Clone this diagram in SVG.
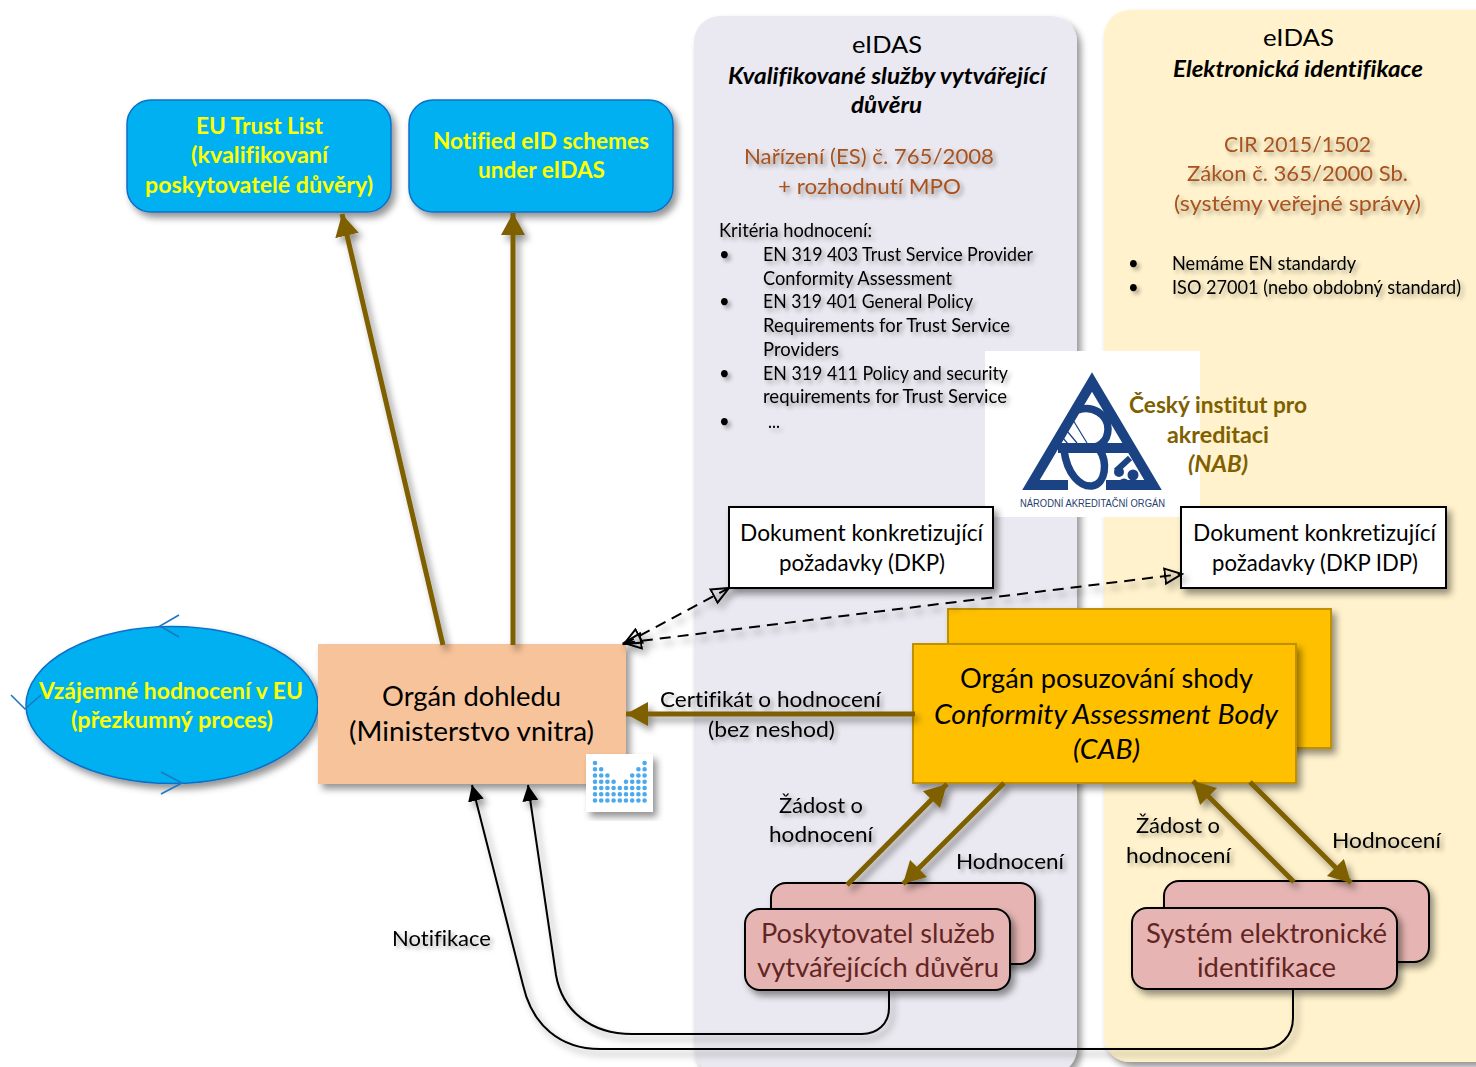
<svg xmlns="http://www.w3.org/2000/svg" width="1476" height="1067" viewBox="0 0 1476 1067">
<style>
text{font-family:Lato,"Liberation Sans",sans-serif;fill:#000;font-variant-ligatures:none}
.sh{filter:url(#ts)}
.bs{filter:url(#bs)}
.s18{font-size:18.5px}
.s21{font-size:22px}
.s24{font-size:24px}
.s26{font-size:27px}
.bi{font-weight:700;font-style:italic}
.it{font-style:italic}
.rust{fill:#A9521E}
.yel{fill:#FFFF00;font-weight:700;font-size:22px}
.ol{fill:#7F6000;font-weight:700;font-size:22px}
.pk{fill:#632523;font-size:27px}
.blue{fill:#00B0F0;stroke:#0F6FC6;stroke-width:1.5}
.pink{fill:#E6B5B3;stroke:#000;stroke-width:2}
.cab{fill:#FFC000;stroke:#BF9000;stroke-width:2}
.doc{fill:#fff;stroke:#000;stroke-width:2}
.br{stroke:#7F6000;stroke-width:5;fill:none}
.th{stroke:#000;stroke-width:2;fill:none}
.da{stroke:#000;stroke-width:2;fill:none;stroke-dasharray:11 7}
.tick{stroke:#1F77C4;stroke-width:1.6;fill:none}
.dots{stroke:#4BA9EE;stroke-width:4.6;stroke-linecap:round;stroke-dasharray:0 6.25;fill:none}
.nab{fill:none;stroke:#1B4283}
</style>
<defs>
<filter id="ts" x="-5%" y="-30%" width="110%" height="170%"><feDropShadow dx="3" dy="3" stdDeviation="2.2" flood-color="#000" flood-opacity=".33"/></filter>
<filter id="bs" x="-10%" y="-10%" width="125%" height="125%"><feDropShadow dx="4" dy="5" stdDeviation="3.5" flood-color="#000" flood-opacity=".42"/></filter>
<marker id="brh" markerUnits="userSpaceOnUse" markerWidth="24" markerHeight="26" refX="22" refY="12" orient="auto"><path d="M0 0L22 12L0 24Z" fill="#7F6000"/></marker>
<marker id="bkh" markerUnits="userSpaceOnUse" markerWidth="18" markerHeight="18" refX="16" refY="8" orient="auto"><path d="M0 0L16 8L0 16Z" fill="#000"/></marker>
<marker id="oh" markerUnits="userSpaceOnUse" markerWidth="20" markerHeight="20" refX="18" refY="9" orient="auto"><path d="M1 1.5L18 9L1 16.5Z" fill="none" stroke="#000" stroke-width="2"/></marker>
<marker id="ohs" markerUnits="userSpaceOnUse" markerWidth="20" markerHeight="20" refX="2" refY="9" orient="auto"><path d="M19 1.5L2 9L19 16.5Z" fill="none" stroke="#000" stroke-width="2"/></marker>
</defs>

<g id="panels">
<rect class="bs" x="694" y="16" width="383" height="1058" rx="26" fill="#EAE8F0"/>
<rect class="bs" x="1104" y="10" width="400" height="1052" rx="26" fill="#FFF2CC"/>
</g>

<g id="nab">
<rect x="985" y="351" width="215" height="166" fill="#fff"/>
<path d="M1068 485H1031L1092 382L1153 485H1106" class="nab" stroke-width="10" stroke-linejoin="miter" stroke-miterlimit="6"/>
<path d="M1058 448H1128" class="nab" stroke-width="10"/>
<path d="M1078 410C1092 405 1108 414 1108 429C1108 442 1098 448 1088 448" class="nab" stroke-width="7.5"/>
<path d="M1064 450C1067 474 1080 487 1092 486C1106 484 1108 462 1099 449" class="nab" stroke-width="7.5"/>
<path d="M1073 420L1087 443M1067 431L1077 443M1063 438L1068 444" class="nab" stroke-width="1.2"/>
<path d="M1116 471L1130 458" class="nab" stroke-width="6"/>
<circle cx="1119" cy="472" r="5" fill="#1B4283"/><circle cx="1133" cy="475" r="5.5" fill="#1B4283"/><circle cx="1124" cy="484" r="5.5" fill="#1B4283"/>
<text x="1020" y="507" textLength="145" lengthAdjust="spacingAndGlyphs" style="font-family:'Liberation Sans',sans-serif;font-size:10.5px;fill:#27406F">NÁRODNÍ AKREDITAČNÍ ORGÁN</text>
<text class="ol" x="1129" y="413" textLength="178" lengthAdjust="spacingAndGlyphs">Český institut pro</text>
<text class="ol" x="1167" y="443" textLength="102" lengthAdjust="spacingAndGlyphs">akreditaci</text>
<text class="ol it" x="1188" y="472" textLength="60" lengthAdjust="spacingAndGlyphs">(NAB)</text>
</g>

<g id="panel-qts-text">
<text class="s24" x="852" y="53" textLength="70" lengthAdjust="spacingAndGlyphs">eIDAS</text>
<text class="s21 bi" x="728" y="84" textLength="318" lengthAdjust="spacingAndGlyphs">Kvalifikované služby vytvářející</text>
<text class="s21 bi" x="851" y="113" textLength="71" lengthAdjust="spacingAndGlyphs">důvěru</text>
<g class="sh"><text class="s21 rust" x="744" y="164" textLength="250" lengthAdjust="spacingAndGlyphs">Nařízení (ES) č. 765/2008</text>
<text class="s21 rust" x="778" y="194" textLength="183" lengthAdjust="spacingAndGlyphs">+ rozhodnutí MPO</text></g>
<g class="sh">
<text class="s18" x="719" y="237" textLength="153" lengthAdjust="spacingAndGlyphs">Kritéria hodnocení:</text>
<text class="s18" x="719" y="261">•</text>
<text class="s18" x="763" y="261" textLength="270" lengthAdjust="spacingAndGlyphs">EN 319 403 Trust Service Provider</text>
<text class="s18" x="763" y="285" textLength="189" lengthAdjust="spacingAndGlyphs">Conformity Assessment</text>
<text class="s18" x="719" y="308">•</text>
<text class="s18" x="763" y="308" textLength="210" lengthAdjust="spacingAndGlyphs">EN 319 401 General Policy</text>
<text class="s18" x="763" y="332" textLength="247" lengthAdjust="spacingAndGlyphs">Requirements for Trust Service</text>
<text class="s18" x="763" y="356" textLength="76" lengthAdjust="spacingAndGlyphs">Providers</text>
<text class="s18" x="719" y="380">•</text>
<text class="s18" x="763" y="380" textLength="245" lengthAdjust="spacingAndGlyphs">EN 319 411 Policy and security</text>
<text class="s18" x="763" y="403" textLength="244" lengthAdjust="spacingAndGlyphs">requirements for Trust Service</text>
<text class="s18" x="719" y="428">•</text>
<text class="s18" x="768" y="428" textLength="12" lengthAdjust="spacingAndGlyphs">...</text>
</g>
</g>

<g id="panel-eid-text">
<text class="s24" x="1263" y="46" textLength="71" lengthAdjust="spacingAndGlyphs">eIDAS</text>
<text class="s21 bi" x="1173" y="77" textLength="250" lengthAdjust="spacingAndGlyphs">Elektronická identifikace</text>
<g class="sh"><text class="s21 rust" x="1224" y="152" textLength="147" lengthAdjust="spacingAndGlyphs">CIR 2015/1502</text>
<text class="s21 rust" x="1187" y="181" textLength="221" lengthAdjust="spacingAndGlyphs">Zákon č. 365/2000 Sb.</text>
<text class="s21 rust" x="1174" y="211" textLength="247" lengthAdjust="spacingAndGlyphs">(systémy veřejné správy)</text></g>
<g class="sh">
<text class="s18" x="1128" y="270">•</text>
<text class="s18" x="1172" y="270" textLength="184" lengthAdjust="spacingAndGlyphs">Nemáme EN standardy</text>
<text class="s18" x="1128" y="294">•</text>
<text class="s18" x="1172" y="294" textLength="289" lengthAdjust="spacingAndGlyphs">ISO 27001 (nebo obdobný standard)</text>
</g>
</g>

<g id="eu-trust-list">
<rect class="blue bs" x="127" y="100" width="264" height="112" rx="24"/>
<text class="yel" x="196" y="134" textLength="127" lengthAdjust="spacingAndGlyphs">EU Trust List</text>
<text class="yel" x="191" y="163" textLength="137" lengthAdjust="spacingAndGlyphs">(kvalifikovaní</text>
<text class="yel" x="145" y="193" textLength="228" lengthAdjust="spacingAndGlyphs">poskytovatelé důvěry)</text>
</g>
<g id="notified-eid">
<rect class="blue bs" x="409" y="100" width="264" height="112" rx="24"/>
<text class="yel" x="433" y="149" textLength="216" lengthAdjust="spacingAndGlyphs">Notified eID schemes</text>
<text class="yel" x="478" y="178" textLength="127" lengthAdjust="spacingAndGlyphs">under eIDAS</text>
</g>
<g id="peer-review">
<ellipse class="blue bs" cx="172" cy="705" rx="146" ry="78.5"/>
<path class="tick" d="M179 615L160 626L179 637M11 695L25 709L41 695M161 772L182 783L161 794"/>
<text class="yel" x="39" y="699" textLength="264" lengthAdjust="spacingAndGlyphs">Vzájemné hodnocení v EU</text>
<text class="yel" x="71" y="728" textLength="202" lengthAdjust="spacingAndGlyphs">(přezkumný proces)</text>
</g>
<g id="supervisor">
<rect class="bs" x="318" y="644" width="308" height="140" fill="#F7C39A"/>
<text class="s26" x="382" y="706" textLength="179" lengthAdjust="spacingAndGlyphs">Orgán dohledu</text>
<text class="s26" x="349" y="741" textLength="245" lengthAdjust="spacingAndGlyphs">(Ministerstvo vnitra)</text>
<rect class="bs" x="586" y="754" width="67" height="58" fill="#fff"/>
<path class="dots" d="M595 763V805M601.2 769.2V805M607.4 775.5V805M613.6 781.7V805M619.8 788V805M626 781.7V805M632.2 775.5V805M638.4 769.2V805M644.6 763V805"/>
</g>
<g id="dkp">
<rect class="doc bs" x="729" y="507" width="264" height="81"/>
<text class="s24" x="740" y="541" textLength="243" lengthAdjust="spacingAndGlyphs">Dokument konkretizující</text>
<text class="s24" x="779" y="571" textLength="166" lengthAdjust="spacingAndGlyphs">požadavky (DKP)</text>
</g>
<g id="dkp-idp">
<rect class="doc bs" x="1181" y="507" width="265" height="81"/>
<text class="s24" x="1193" y="541" textLength="243" lengthAdjust="spacingAndGlyphs">Dokument konkretizující</text>
<text class="s24" x="1212" y="571" textLength="206" lengthAdjust="spacingAndGlyphs">požadavky (DKP IDP)</text>
</g>
<g id="cab">
<rect class="cab bs" x="948" y="609" width="383" height="139"/>
<rect class="cab bs" x="913" y="644" width="383" height="139"/>
<text class="s26" x="960" y="688" textLength="293" lengthAdjust="spacingAndGlyphs">Orgán posuzování shody</text>
<text class="s26 it" x="934" y="724" textLength="344" lengthAdjust="spacingAndGlyphs">Conformity Assessment Body</text>
<text class="s26 it" x="1073" y="759" textLength="67" lengthAdjust="spacingAndGlyphs">(CAB)</text>
</g>
<g id="provider">
<rect class="pink bs" x="771" y="883" width="264" height="81" rx="15"/>
<rect class="pink bs" x="745" y="909" width="265" height="81" rx="15"/>
<text class="pk" x="761" y="943" textLength="234" lengthAdjust="spacingAndGlyphs">Poskytovatel služeb</text>
<text class="pk" x="757" y="977" textLength="242" lengthAdjust="spacingAndGlyphs">vytvářejících důvěru</text>
</g>
<g id="eid-system">
<rect class="pink bs" x="1164" y="881" width="265" height="81" rx="15"/>
<rect class="pink bs" x="1132" y="908" width="265" height="81" rx="15"/>
<text class="pk" x="1146" y="943" textLength="241" lengthAdjust="spacingAndGlyphs">Systém elektronické</text>
<text class="pk" x="1197" y="977" textLength="139" lengthAdjust="spacingAndGlyphs">identifikace</text>
</g>

<g id="connectors">
<g class="bs">
<path class="br" d="M443 645L342 214" marker-end="url(#brh)"/>
<path class="br" d="M513 645V213" marker-end="url(#brh)"/>
<path class="br" d="M915 714H626" marker-end="url(#brh)"/>
<path class="br" d="M847 885L947 784" marker-end="url(#brh)"/>
<path class="br" d="M1004 783L903 884" marker-end="url(#brh)"/>
<path class="br" d="M1294 882L1193 781" marker-end="url(#brh)"/>
<path class="br" d="M1250 782L1351 883" marker-end="url(#brh)"/>
<path class="th" d="M889 990V1008C889 1024 877 1034 862 1034H632C590 1034 562 1010 556 975L528 785" marker-end="url(#bkh)"/>
<path class="th" d="M1293 989V1018C1293 1036 1280 1049 1262 1049H600C560 1049 532 1025 523 985L472 785" marker-end="url(#bkh)"/>
<path class="da" d="M624 644L729 588" marker-start="url(#ohs)" marker-end="url(#oh)"/>
<path class="da" d="M624 643L1182 574" marker-start="url(#ohs)" marker-end="url(#oh)"/>
</g>
</g>

<g id="labels" class="sh">
<text class="s21" x="660" y="707" textLength="221" lengthAdjust="spacingAndGlyphs">Certifikát o hodnocení</text>
<text class="s21" x="708" y="737" textLength="127" lengthAdjust="spacingAndGlyphs">(bez neshod)</text>
<text class="s21" x="779" y="813" textLength="84" lengthAdjust="spacingAndGlyphs">Žádost o</text>
<text class="s21" x="769" y="842" textLength="104" lengthAdjust="spacingAndGlyphs">hodnocení</text>
<text class="s21" x="956" y="869" textLength="108" lengthAdjust="spacingAndGlyphs">Hodnocení</text>
<text class="s21" x="1136" y="833" textLength="84" lengthAdjust="spacingAndGlyphs">Žádost o</text>
<text class="s21" x="1126" y="863" textLength="105" lengthAdjust="spacingAndGlyphs">hodnocení</text>
<text class="s21" x="1332" y="848" textLength="109" lengthAdjust="spacingAndGlyphs">Hodnocení</text>
<text class="s21" x="392" y="946" textLength="99" lengthAdjust="spacingAndGlyphs">Notifikace</text>
</g>
</svg>
